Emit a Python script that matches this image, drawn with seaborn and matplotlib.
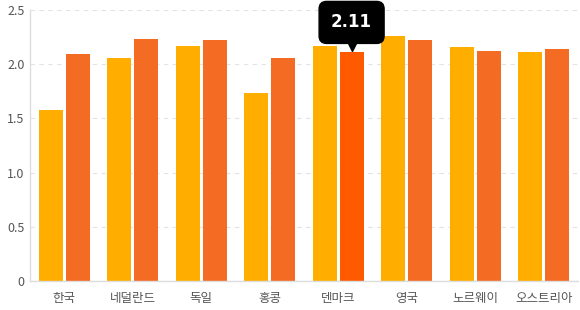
import matplotlib
matplotlib.use("Agg")
import matplotlib.pyplot as plt
import matplotlib.transforms as mtransforms
import seaborn as sns
import pandas as pd

categories = ["한국", "네덜란드", "독일", "홍콩", "덴마크", "영국", "노르웨이", "오스트리아"]
series_a = [1.58, 2.06, 2.17, 1.73, 2.17, 2.26, 2.16, 2.11]
series_b = [2.09, 2.23, 2.22, 2.06, 2.11, 2.22, 2.12, 2.14]
series_names = ["A", "B"]
y_ticks = [0, 0.5, 1.0, 1.5, 2.0, 2.5]
y_tick_labels = ["0", "0.5", "1.0", "1.5", "2.0", "2.5"]
highlight_index = 4

df = pd.DataFrame({
    "cat": categories * 2,
    "series": [series_names[0]] * len(categories) + [series_names[1]] * len(categories),
    "value": series_a + series_b,
})

sns.set_style("white")
plt.rcParams["font.family"] = ["Noto Sans CJK KR", "DejaVu Sans"]

fig = plt.figure(figsize=(5.8, 3.1), dpi=100)
ax = fig.add_axes([30 / 580, 29 / 310, 548 / 580, 271 / 310])

sns.barplot(data=df, x="cat", y="value", hue="series",
            palette=["#FFAE00", "#F46B24"], width=0.78, gap=0.1,
            legend=False, ax=ax, saturation=1, edgecolor="none")

ax.set_ylim(0, 2.5)
ax.set_xlim(-0.5, len(categories) - 0.5)
ax.set_yticks(y_ticks)
ax.set_yticklabels(y_tick_labels)
ax.set_xlabel("")
ax.set_ylabel("")
ax.yaxis.grid(True, color="#e3e3e3", linestyle=(0, (4, 4)), linewidth=0.8)
ax.set_axisbelow(True)
for s in ["top", "right"]:
    ax.spines[s].set_visible(False)
for s in ["left", "bottom"]:
    ax.spines[s].set_color("#dddddd")
    ax.spines[s].set_linewidth(1)
ax.tick_params(axis="both", length=0, colors="#555555", labelsize=9)
ax.tick_params(axis="x", pad=8)
ax.tick_params(axis="y", pad=4)

# highlight hovered bar
bar = ax.containers[1][highlight_index]
bar.set_facecolor("#FF5A00")
bx = bar.get_x() + bar.get_width() / 2
by = bar.get_height()

ax.annotate(f"{series_b[highlight_index]:.2f}", xy=(bx, by), xytext=(0, 21.5),
            textcoords="offset points", ha="center", va="center",
            color="white", fontsize=12, fontweight="bold", family="DejaVu Sans",
            bbox=dict(boxstyle="round,pad=0.72,rounding_size=0.45", fc="black", ec="black"),
            zorder=10)
tr = mtransforms.offset_copy(ax.transData, fig=fig, x=0, y=5.5, units="points")
ax.plot([bx], [by], marker="v", markersize=8, color="black", transform=tr,
        clip_on=False, zorder=11)

fig.savefig("out.png", dpi=100)
